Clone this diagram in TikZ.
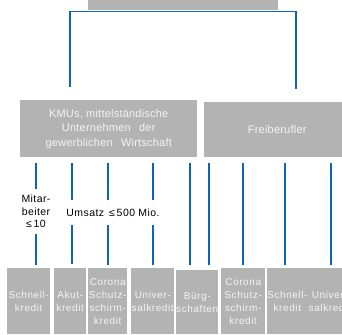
\documentclass[tikz,border=0pt]{standalone}
\usepackage{fontspec}
\setmainfont{Liberation Sans}
\definecolor{boxgray}{HTML}{B3B3B3}
\definecolor{boxtext}{HTML}{F4F4F4}
\definecolor{linkblue}{HTML}{0B66B8}
\newcommand\bigboxfont{\fontsize{11}{14.5}\selectfont\addfontfeature{LetterSpace=2}}
\newcommand\smallboxfont{\fontsize{10}{13}\selectfont\addfontfeature{LetterSpace=6}}
\newcommand\labelfont{\fontsize{10.5}{12.5}\selectfont\addfontfeature{LetterSpace=4}}
\begin{document}
\begin{tikzpicture}[x=1pt,y=-1pt,
  box/.style={fill=boxgray, text=boxtext, anchor=north west, inner sep=0pt, align=center},
  smallbox/.style={box, font=\smallboxfont, minimum height=66pt},
  link/.style={draw=linkblue, line width=1.7pt},
  crit/.style={fill=white, text=black, font=\labelfont, align=center, inner xsep=1pt}]
\useasboundingbox (0,0) rectangle (342,334);
\clip (0,0) rectangle (342,334);
% boxes
\node [box, minimum width=190pt, minimum height=30pt] (top) at (88,-20) {};
\node [box, font=\bigboxfont, minimum width=177pt, minimum height=57pt] (kmu) at (20,100)
  {KMUs, mittelständische\\Unternehmen\hspace{5pt} der\\gewerblichen\hspace{5pt} Wirtschaft};
\node [box, font=\bigboxfont, minimum width=146pt, minimum height=55pt] (frei) at (204,102) {Freiberufler};
\node [smallbox, minimum width=43pt] (sk1) at (7,268) {Schnell-\\kredit};
\node [smallbox, minimum width=32pt] (akut) at (54,268) {Akut-\\kredit};
\node [smallbox, minimum width=39pt] (cor1) at (88,268) {Corona\\Schutz-\\schirm-\\kredit};
\node [smallbox, minimum width=43pt] (univ1) at (131,268) {Univer-\\salkredit};
\node [smallbox, minimum width=42pt, minimum height=64pt] (buerg) at (176,270) {Bürg-\\schaften};
\node [smallbox, minimum width=44pt] (cor2) at (221,268) {Corona\\Schutz-\\schirm-\\kredit};
\node [smallbox, minimum width=39pt] (sk2) at (267,268) {Schnell-\\kredit};
\node [smallbox, minimum width=43pt] (univ2) at (308,268) {Univer-\\salkredit};
% top fork
\coordinate (kmu in) at (70,87);
\coordinate (frei in) at (296,89);
\coordinate (fork) at (183,11.5);
\draw [link] (kmu in) |- (fork) -| (frei in);
% lower links
\foreach \x/\src/\dst/\gap in {36/kmu/sk1/3, 72/kmu/akut/4, 108/kmu/cor1/3, 153/kmu/univ1/3,
    190/kmu/buerg/5, 209/frei/buerg/5, 243/frei/cor2/3, 285/frei/sk2/3, 331/frei/univ2/3}
  \draw [link] ([yshift=-6pt]\src.south -| \x,0) -- ([yshift=\gap pt]\dst.north -| \x,0);
% criteria
\node [crit, inner ysep=6pt] (staff) at (36,211.5) {Mitar-\\beiter\\≤\,10};
\node [crit, inner ysep=9pt] (sales) at (113,212.5) {Umsatz\, ≤\,500 Mio.};
\end{tikzpicture}
\end{document}
